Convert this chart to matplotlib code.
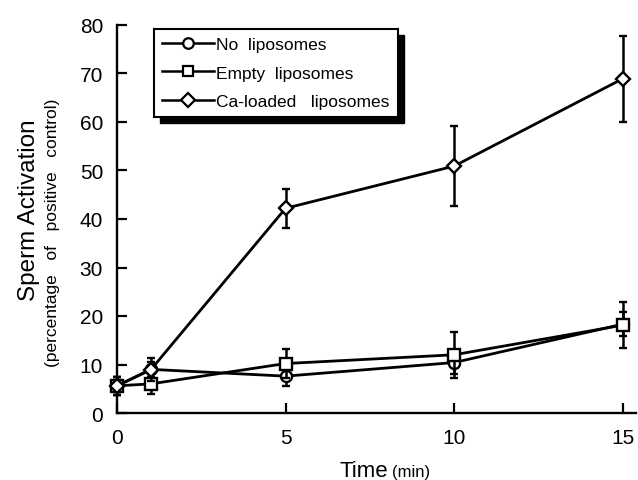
import matplotlib
matplotlib.use("Agg")
import matplotlib.pyplot as plt
from matplotlib.patches import Rectangle
from matplotlib.lines import Line2D

plt.rcParams['font.family'] = ['Liberation Sans', 'DejaVu Sans']

time = [0, 1, 5, 10, 15]
no_lipo = [5.6, 9.0, 7.6, 10.4, 18.3]
no_lipo_err = [1.8, 1.5, 2.0, 2.4, 2.5]
empty_lipo = [5.6, 6.0, 10.2, 12.0, 18.1]
empty_lipo_err = [1.8, 2.1, 3.0, 4.8, 4.8]
ca_lipo = [5.6, 8.9, 42.2, 50.9, 68.9]
ca_lipo_err = [1.8, 2.4, 4.0, 8.3, 8.9]

series = [
    ("No  liposomes", no_lipo, no_lipo_err, "o", 8.0),
    ("Empty  liposomes", empty_lipo, empty_lipo_err, "s", 8.0),
    ("Ca-loaded   liposomes", ca_lipo, ca_lipo_err, "D", 7.2),
]
xticks = [0, 5, 10, 15]
yticks = [0, 10, 20, 30, 40, 50, 60, 70, 80]

W, H = 638, 481
fig = plt.figure(figsize=(W / 100, H / 100), dpi=100)
ax = fig.add_axes([117 / W, 1 - 414 / H, (636 - 117) / W, (414 - 26) / H])
ax.set_facecolor('none')

handles = []
for i, (lab, y, e, m, ms) in enumerate(series):
    ax.errorbar(time, y, yerr=e, color='black', lw=2.0, marker=m, ms=ms,
                mfc='white', mec='black', mew=1.7, capsize=3,
                capthick=2.0, elinewidth=1.8, zorder=3 + i, clip_on=False)
    handles.append(Line2D([], [], color='black', lw=1.8, marker=m, ms=ms * 0.95,
                          mfc='white', mec='black', mew=1.6, label=lab))

ax.set_xlim(0, 15.4)
ax.set_ylim(0, 80)
ax.set_xticks(xticks)
ax.set_yticks(yticks)
for s in ['top', 'right']:
    ax.spines[s].set_visible(False)
for s in ['left', 'bottom']:
    ax.spines[s].set_linewidth(1.7)
ax.tick_params(direction='in', length=7, width=1.6, labelsize=15, pad=10)
ax.tick_params(axis='x', pad=11)

leg = ax.legend(handles=handles, loc='upper left', bbox_to_anchor=(0.071, 0.99),
                fontsize=12.5, frameon=True, fancybox=False, edgecolor='black',
                framealpha=1.0, handlelength=3.0, handletextpad=0.15,
                borderpad=0.45, labelspacing=0.78, borderaxespad=0.0)
leg.get_frame().set_linewidth(1.5)
leg.get_frame().set_facecolor('white')
leg.set_zorder(10)

fig.canvas.draw()
bb = leg.get_window_extent()
off = 6
fig.patches.append(Rectangle((bb.x0 + off, bb.y0 - off), bb.width, bb.height,
                             transform=None, facecolor='black', edgecolor='black',
                             zorder=-1, figure=fig))

fig.text(35 / W, 1 - 210 / H, "Sperm Activation", rotation=90, fontsize=17.5,
         ha='center', va='baseline', rotation_mode='anchor')
fig.text(57 / W, 1 - 233 / H, "(percentage   of   positive   control)", rotation=90,
         fontsize=12.5, ha='center', va='baseline', rotation_mode='anchor')
fig.text(388 / W, 1 - 477 / H, "Time", fontsize=16, ha='right', va='baseline')
fig.text(392 / W, 1 - 477 / H, "(min)", fontsize=12, ha='left', va='baseline')

fig.savefig("out.png", dpi=100)
